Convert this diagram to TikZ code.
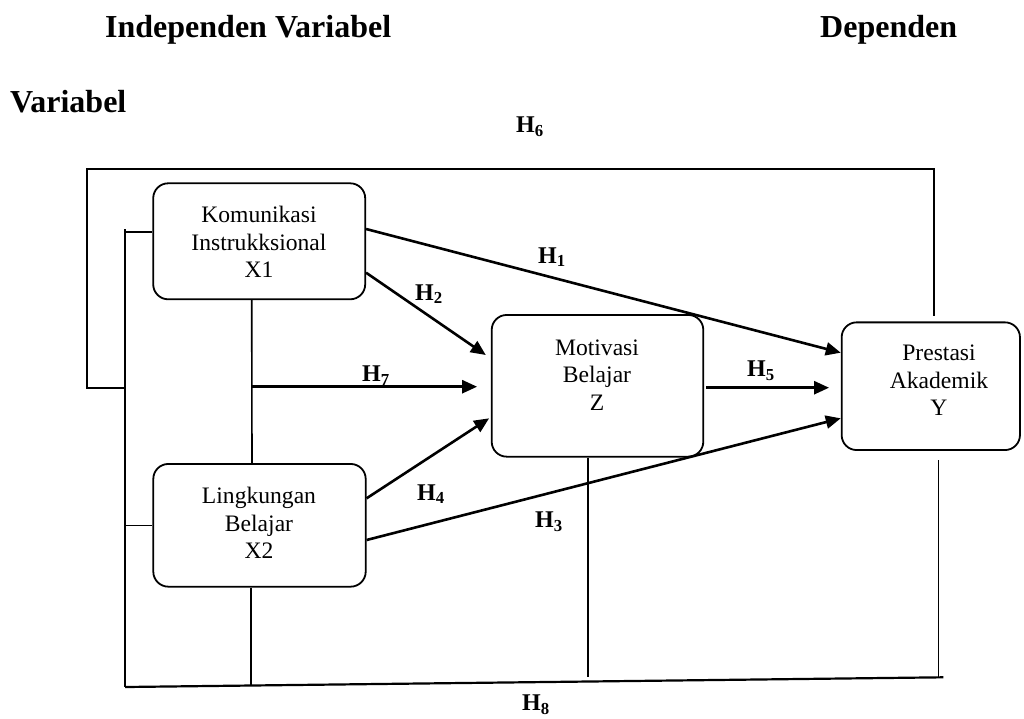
\documentclass[tikz,border=0pt]{standalone}
\usepackage{fontspec}
\setmainfont{Liberation Serif}
\usetikzlibrary{arrows.meta,calc}
\begin{document}
\begin{tikzpicture}[x=1pt,y=-1pt,
  box/.style={draw, line width=1.8pt, rounded corners=15pt, inner sep=0pt},
  boxtext/.style={align=center, font=\fontsize{23.6}{27.5}\selectfont, inner sep=0pt},
  hlab/.style={font=\fontsize{24}{28}\selectfont\bfseries, anchor=base, inner sep=0pt},
  ttl/.style={font=\fontsize{32}{38}\selectfont\bfseries, anchor=base west, inner sep=0pt},
  arr/.style={line width=2.6pt, -{Triangle[length=15pt,width=13pt]}},
  thinline/.style={line width=1.6pt},
  frameline/.style={line width=1.9pt, line join=miter}]
\useasboundingbox (0,0) rectangle (1024,718);

% titles
\node[ttl] (t1) at (105,37) {Independen Variabel};
\node[ttl] (t2) at (820,37) {Dependen};
\node[ttl] (t3) at (10,112) {Variabel};

% boxes
\node[box, minimum width=212pt, minimum height=116pt] (K) at (259.2,241.3) {};
\node[box, minimum width=212.4pt, minimum height=122.7pt] (L) at (259.5,525.3) {};
\node[box, minimum width=211.6pt, minimum height=141.7pt] (Z) at (597.5,385.8) {};
\node[box, minimum width=178.3pt, minimum height=127.7pt] (Y) at (930.8,386.2) {};

\node[boxtext] (Kt) at (259,242) {Komunikasi\\Instrukksional\\X1};
\node[boxtext] (Lt) at (259,523) {Lingkungan\\Belajar\\X2};
\node[boxtext] (Zt) at (597,375) {Motivasi\\Belajar\\Z};
\node[boxtext] (Yt) at (939,380.5) {Prestasi\\Akademik\\Y};

% coordinates for free ends
\coordinate (tr) at (934,169.3);
\coordinate (tl) at (86.7,169.3);
\coordinate (lb) at (86.7,388);
\coordinate (vt) at (125,229);
\coordinate (vb) at (125,687);
\coordinate (br) at (943.3,677.3);
\coordinate (j7) at (251.7,386.7);
\coordinate (z7) at ([xshift=-13.7pt]Z.west);
\coordinate (z5) at ([xshift=2pt,yshift=-1.9pt]Z.east);
\coordinate (y5) at ([xshift=-11.7pt]Y.west);
\coordinate (lbot) at (250.7,685.5);
\coordinate (zbot) at (588,677);
\coordinate (ybot) at (938.3,677.3);

% outer frame (H6)
\draw[frameline] ([xshift=3.2pt,yshift=5.6pt]Y.north) -- (tr) -- (tl) -- (lb) -- (lb -| vt);
% inner left vertical and ticks
\draw[thinline] (vt) -- (vb);
\draw[thinline] (vt |- 0,232) -- ([yshift=9.3pt]K.west);
\draw[thinline] (vt |- L.west) -- (L.west);
% bottom line (H8)
\draw[line width=2.2pt] (vb) -- (br);
% verticals
\draw[thinline] ([xshift=-7.5pt]K.south) -- ([xshift=-7.5pt]L.north);
\draw[thinline] ([xshift=-8.8pt]L.south) -- (lbot);
\draw[thinline] ([xshift=-9.5pt]Z.south) -- (zbot);
\draw[thinline] ([xshift=7.5pt,yshift=-9.3pt]Y.south) -- (ybot);

% arrows
\draw[arr] ([yshift=12.3pt]K.east) -- ([yshift=33.5pt]Y.west);
\draw[arr] ([yshift=-31.4pt]K.east) -- ([xshift=-5pt,yshift=30.8pt]Z.west);
\draw[arr] (j7) -- (j7 -| z7);
\draw[arr] ([yshift=27pt]L.east) -- ([xshift=-1.7pt,yshift=-32.5pt]Z.west);
\draw[arr] ([yshift=-14.7pt]L.east) -- ([yshift=-32.1pt]Y.west);
\draw[arr] (z5) -- (z5 -| y5);

% labels
\node[hlab] (h1) at (552,263) {H\textsubscript{1}};
\node[hlab] (h2) at (429,300) {H\textsubscript{2}};
\node[hlab] (h3) at (549,527.7) {H\textsubscript{3}};
\node[hlab] (h4) at (431,500) {H\textsubscript{4}};
\node[hlab] (h5) at (761,376.7) {H\textsubscript{5}};
\node[hlab] (h6) at (530,132.7) {H\textsubscript{6}};
\node[hlab] (h7) at (376,381.7) {H\textsubscript{7}};
\node[hlab] (h8) at (536,710.5) {H\textsubscript{8}};
\end{tikzpicture}
\end{document}
